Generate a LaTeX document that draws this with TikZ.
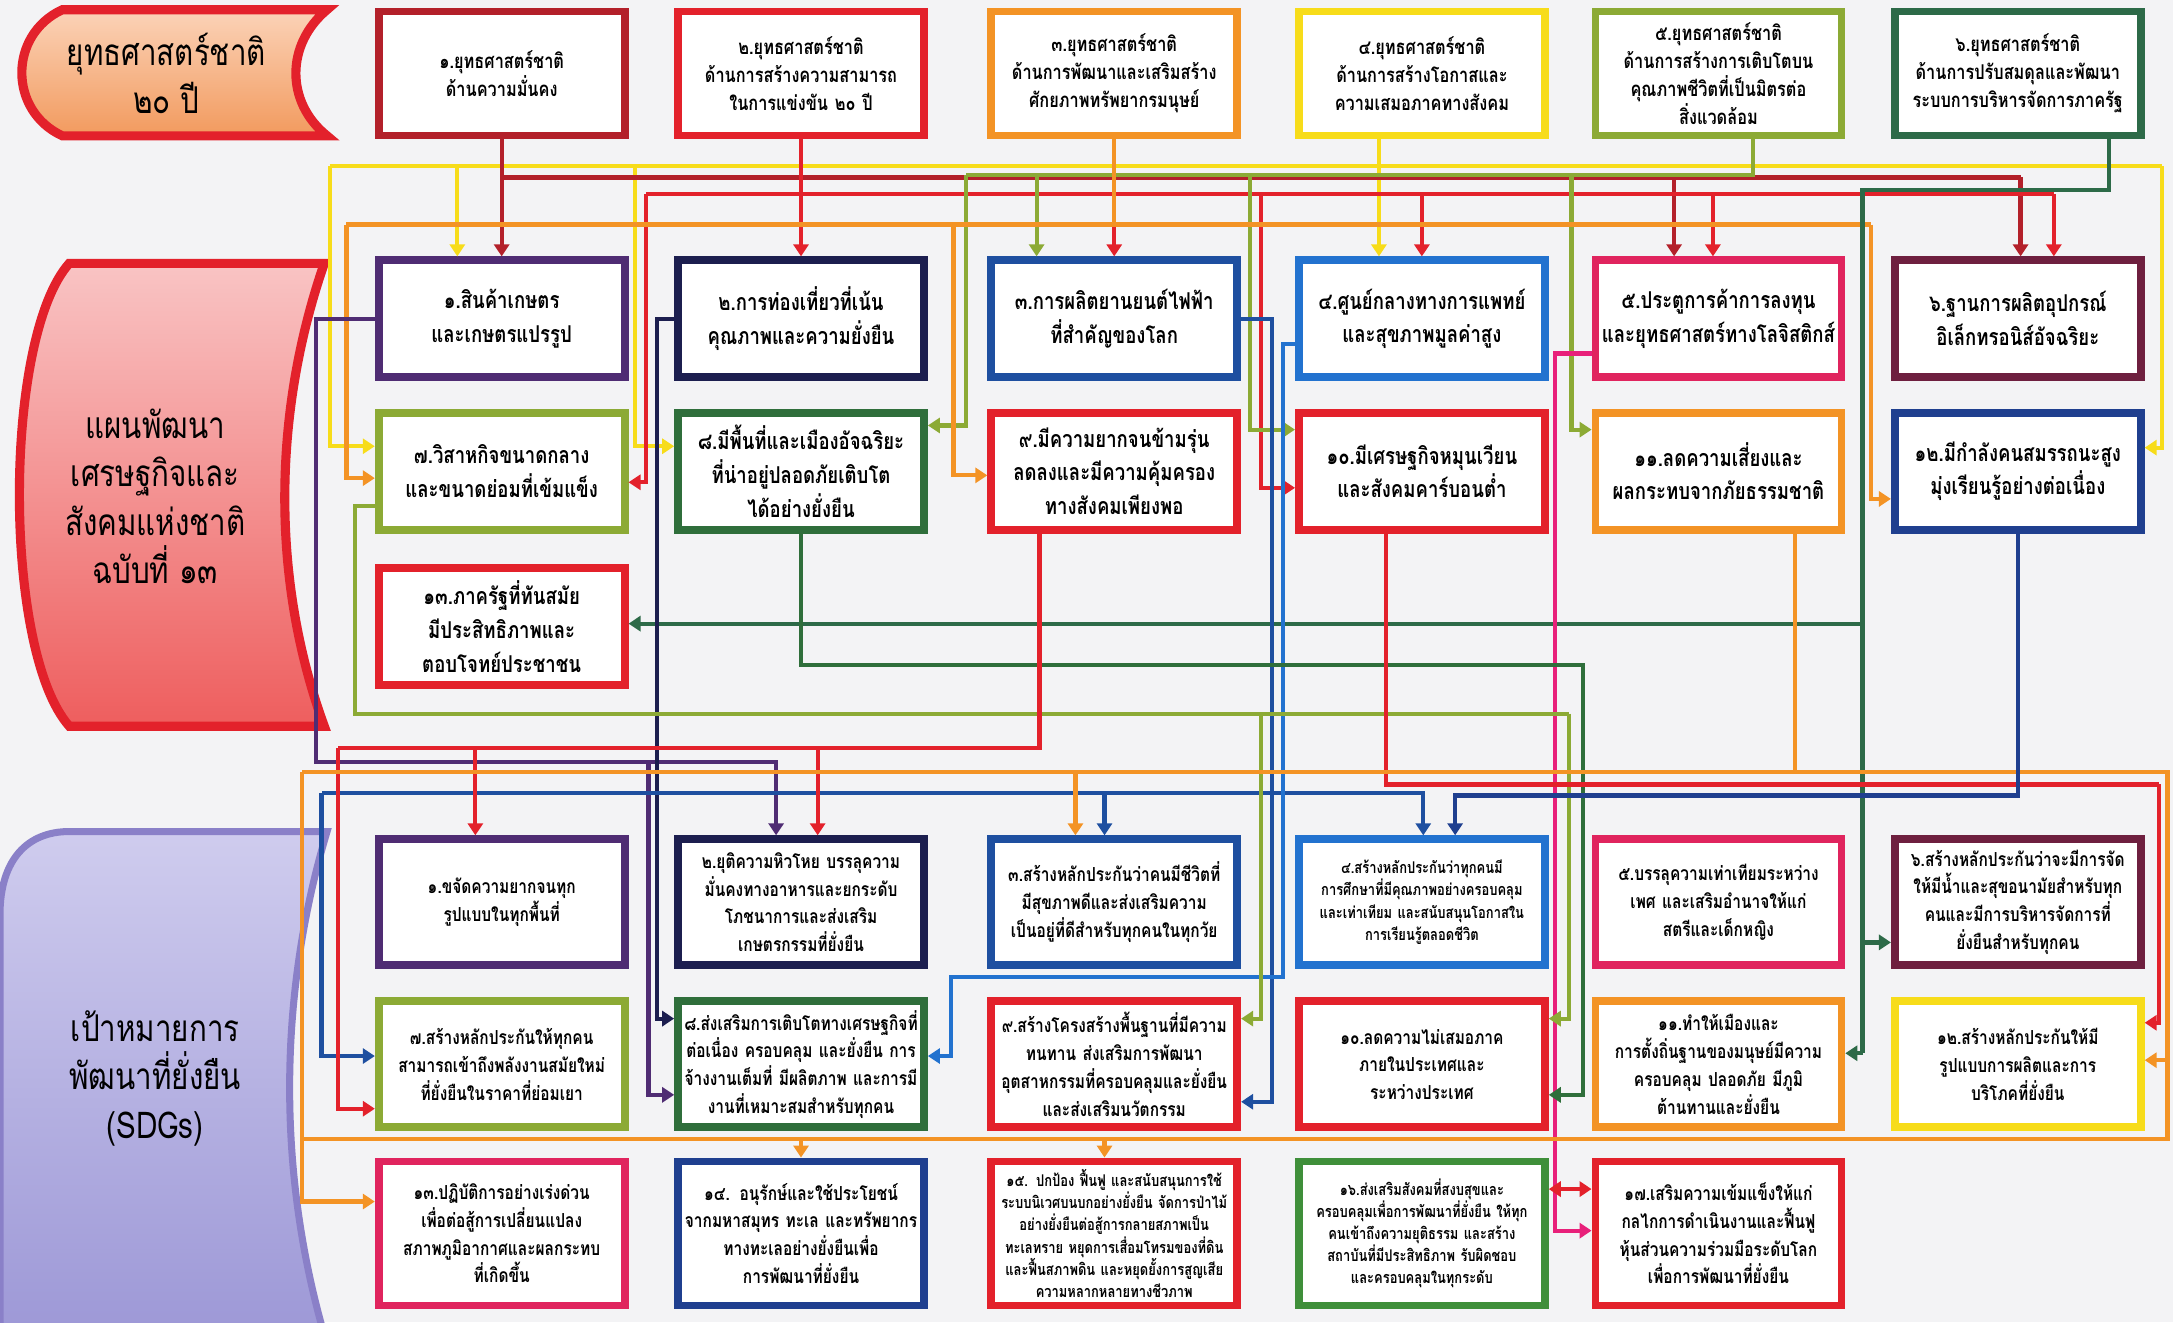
\documentclass[tikz,border=0pt]{standalone}
\usepackage{fontspec}
\newfontfamily\thaifont[Script=Thai,FakeStretch=0.8]{Loma}
\usetikzlibrary{arrows.meta}

\definecolor{bggrey}{HTML}{F3F3F5}
\definecolor{cdarkred}{HTML}{B3202A}
\definecolor{cred}{HTML}{E3212B}
\definecolor{corange}{HTML}{F39325}
\definecolor{cyellow}{HTML}{F7DC1A}
\definecolor{colive}{HTML}{8CAA35}
\definecolor{cdkgreen}{HTML}{2D6A48}
\definecolor{cpurple}{HTML}{4F2C73}
\definecolor{cnavy}{HTML}{1C1E4F}
\definecolor{cblue}{HTML}{1E4FA0}
\definecolor{cltblue}{HTML}{2272CF}
\definecolor{ccrimson}{HTML}{E0245E}
\definecolor{cmaroon}{HTML}{6E1F3F}
\definecolor{cgreen}{HTML}{2F6E3B}
\definecolor{cnavyblue}{HTML}{1F3F8F}
\definecolor{cgreentwo}{HTML}{3F8F3A}
\definecolor{cpink}{HTML}{E8207A}
\definecolor{peachtop}{HTML}{FBD3B8}
\definecolor{peachbot}{HTML}{F29A5E}
\definecolor{pinktop}{HTML}{F9C4C4}
\definecolor{pinkbot}{HTML}{EE5E5E}
\definecolor{lavtop}{HTML}{CFCCEE}
\definecolor{lavbot}{HTML}{9C97D6}
\definecolor{sdgedge}{HTML}{8A80C8}

\begin{document}
\begin{tikzpicture}[%
    x=0.1386mm, y=-0.1386mm,
    boxnode/.style={
        draw=#1,
        rectangle,
        line width=2.2pt,
        fill=white,
        minimum width=24.6mm,
        text width=24mm,
        align=center,
        inner sep=0.5pt,
        anchor=center,
        },
    stratnode/.style={boxnode=#1, minimum height=12.4mm,
        font=\thaifont\bfseries\fontsize{5.8}{8}\selectfont},
    plannode/.style={boxnode=#1, minimum height=11.7mm,
        font=\thaifont\bfseries\fontsize{6.6}{9.6}\selectfont},
    sdgnode/.style={boxnode=#1, minimum height=12.6mm,
        font=\thaifont\bfseries\fontsize{5.5}{7.9}\selectfont},
    tallsdg/.style={minimum height=14.4mm},
    tinytext/.style={font=\thaifont\bfseries\fontsize{4.6}{6.3}\selectfont},
    bannertext/.style={font=\thaifont\fontsize{10.5}{13.8}\selectfont, align=center},
    busline/.style={line width=1.2pt},
    arrowline/.style={line width=1.2pt, -{Triangle[length=1.2mm,width=1.5mm]}},
    twoway/.style={line width=1.2pt,
        {Triangle[length=1.2mm,width=1.5mm]}-{Triangle[length=1.2mm,width=1.5mm]}},
]

\useasboundingbox (0,0) rectangle (1568,954);
\fill[bggrey] (0,0) rectangle (1568,954);

% banners on the left
\draw[draw=cred, line width=2.6pt, top color=peachtop, bottom color=peachbot]
    (45,7) -- (236,7) .. controls (206,32) and (206,74) .. (236,98)
    -- (45,98) .. controls (6,80) and (6,25) .. (45,7) -- cycle;
\node[bannertext] (ystext) at (120,53) {ยุทธศาสตร์ชาติ\\๒๐ ปี};

\draw[draw=cred, line width=2.6pt, top color=pinktop, bottom color=pinkbot]
    (50,190) -- (234,190) .. controls (196,300) and (196,420) .. (234,524)
    -- (50,524) .. controls (2,470) and (2,244) .. (50,190) -- cycle;
\node[bannertext] (plantext) at (112,358) {แผนพัฒนา\\เศรษฐกิจและ\\สังคมแห่งชาติ\\ฉบับที่ ๑๓};

\draw[draw=sdgedge, line width=2pt, top color=lavtop, bottom color=lavbot]
    (0,660) .. controls (0,620) and (20,600) .. (50,600) -- (236,600)
    .. controls (200,720) and (200,850) .. (236,970) -- (0,970) -- cycle;
\node[bannertext] (sdgtext) at (112,778) {เป้าหมายการ\\พัฒนาที่ยั่งยืน\\(SDGs)};

% national strategy
\node[stratnode=cdarkred] (st1) at (362,53) {๑.ยุทธศาสตร์ชาติ\\ด้านความมั่นคง};
\node[stratnode=cred] (st2) at (578,53) {๒.ยุทธศาสตร์ชาติ\\ด้านการสร้างความสามารถ\\ในการแข่งขัน ๒๐ ปี};
\node[stratnode=corange] (st3) at (804,53) {๓.ยุทธศาสตร์ชาติ\\ด้านการพัฒนาและเสริมสร้าง\\ศักยภาพทรัพยากรมนุษย์};
\node[stratnode=cyellow] (st4) at (1026,53) {๔.ยุทธศาสตร์ชาติ\\ด้านการสร้างโอกาสและ\\ความเสมอภาคทางสังคม};
\node[stratnode=colive] (st5) at (1240,53) {๕.ยุทธศาสตร์ชาติ\\ด้านการสร้างการเติบโตบน\\คุณภาพชีวิตที่เป็นมิตรต่อ\\สิ่งแวดล้อม};
\node[stratnode=cdkgreen] (st6) at (1456,53) {๖.ยุทธศาสตร์ชาติ\\ด้านการปรับสมดุลและพัฒนา\\ระบบการบริหารจัดการภาครัฐ};

% plan milestones
\node[plannode=cpurple] (pl1) at (362,230) {๑.สินค้าเกษตร\\และเกษตรแปรรูป};
\node[plannode=cnavy] (pl2) at (578,230) {๒.การท่องเที่ยวที่เน้น\\คุณภาพและความยั่งยืน};
\node[plannode=cblue] (pl3) at (804,230) {๓.การผลิตยานยนต์ไฟฟ้า\\ที่สำคัญของโลก};
\node[plannode=cltblue] (pl4) at (1026,230) {๔.ศูนย์กลางทางการแพทย์\\และสุขภาพมูลค่าสูง};
\node[plannode=ccrimson] (pl5) at (1240,230) {๕.ประตูการค้าการลงทุน\\และยุทธศาสตร์ทางโลจิสติกส์};
\node[plannode=cmaroon] (pl6) at (1456,230) {๖.ฐานการผลิตอุปกรณ์\\อิเล็กทรอนิส์อัจฉริยะ};
\node[plannode=colive] (pl7) at (362,340) {๗.วิสาหกิจขนาดกลาง\\และขนาดย่อมที่เข้มแข็ง};
\node[plannode=cgreen] (pl8) at (578,340) {๘.มีพื้นที่และเมืองอัจฉริยะ\\ที่น่าอยู่ปลอดภัยเติบโต\\ได้อย่างยั่งยืน};
\node[plannode=cred] (pl9) at (804,340) {๙.มีความยากจนข้ามรุ่น\\ลดลงและมีความคุ้มครอง\\ทางสังคมเพียงพอ};
\node[plannode=cred] (pl10) at (1026,340) {๑๐.มีเศรษฐกิจหมุนเวียน\\และสังคมคาร์บอนต่ำ};
\node[plannode=corange] (pl11) at (1240,340) {๑๑.ลดความเสี่ยงและ\\ผลกระทบจากภัยธรรมชาติ};
\node[plannode=cnavyblue] (pl12) at (1456,340) {๑๒.มีกำลังคนสมรรถนะสูง\\มุ่งเรียนรู้อย่างต่อเนื่อง};
\node[plannode=cred] (pl13) at (362,452) {๑๓.ภาครัฐที่ทันสมัย\\มีประสิทธิภาพและ\\ตอบโจทย์ประชาชน};

% sustainable development goals
\node[sdgnode=cpurple] (sdg1) at (362,651) {๑.ขจัดความยากจนทุก\\รูปแบบในทุกพื้นที่};
\node[sdgnode=cnavy] (sdg2) at (578,651) {๒.ยุติความหิวโหย บรรลุความ\\มั่นคงทางอาหารและยกระดับ\\โภชนาการและส่งเสริม\\เกษตรกรรมที่ยั่งยืน};
\node[sdgnode=cblue] (sdg3) at (804,651) {๓.สร้างหลักประกันว่าคนมีชีวิตที่\\มีสุขภาพดีและส่งเสริมความ\\เป็นอยู่ที่ดีสำหรับทุกคนในทุกวัย};
\node[sdgnode=cltblue, tinytext] (sdg4) at (1026,651) {๔.สร้างหลักประกันว่าทุกคนมี\\การศึกษาที่มีคุณภาพอย่างครอบคลุม\\และเท่าเทียม และสนับสนุนโอกาสใน\\การเรียนรู้ตลอดชีวิต};
\node[sdgnode=ccrimson] (sdg5) at (1240,651) {๕.บรรลุความเท่าเทียมระหว่าง\\เพศ และเสริมอำนาจให้แก่\\สตรีและเด็กหญิง};
\node[sdgnode=cmaroon] (sdg6) at (1456,651) {๖.สร้างหลักประกันว่าจะมีการจัด\\ให้มีน้ำและสุขอนามัยสำหรับทุก\\คนและมีการบริหารจัดการที่\\ยั่งยืนสำหรับทุกคน};
\node[sdgnode=colive] (sdg7) at (362,768) {๗.สร้างหลักประกันให้ทุกคน\\สามารถเข้าถึงพลังงานสมัยใหม่\\ที่ยั่งยืนในราคาที่ย่อมเยา};
\node[sdgnode=cgreen] (sdg8) at (578,768) {๘.ส่งเสริมการเติบโตทางเศรษฐกิจที่\\ต่อเนื่อง ครอบคลุม และยั่งยืน การ\\จ้างงานเต็มที่ มีผลิตภาพ และการมี\\งานที่เหมาะสมสำหรับทุกคน};
\node[sdgnode=cred] (sdg9) at (804,768) {๙.สร้างโครงสร้างพื้นฐานที่มีความ\\ทนทาน ส่งเสริมการพัฒนา\\อุตสาหกรรมที่ครอบคลุมและยั่งยืน\\และส่งเสริมนวัตกรรม};
\node[sdgnode=cred] (sdg10) at (1026,768) {๑๐.ลดความไม่เสมอภาค\\ภายในประเทศและ\\ระหว่างประเทศ};
\node[sdgnode=corange] (sdg11) at (1240,768) {๑๑.ทำให้เมืองและ\\การตั้งถิ่นฐานของมนุษย์มีความ\\ครอบคลุม ปลอดภัย มีภูมิ\\ต้านทานและยั่งยืน};
\node[sdgnode=cyellow] (sdg12) at (1456,768) {๑๒.สร้างหลักประกันให้มี\\รูปแบบการผลิตและการ\\บริโภคที่ยั่งยืน};
\node[sdgnode=ccrimson, tallsdg] (sdg13) at (362,890) {๑๓.ปฏิบัติการอย่างเร่งด่วน\\เพื่อต่อสู้การเปลี่ยนแปลง\\สภาพภูมิอากาศและผลกระทบ\\ที่เกิดขึ้น};
\node[sdgnode=cnavyblue, tallsdg] (sdg14) at (578,890) {๑๔. อนุรักษ์และใช้ประโยชน์\\จากมหาสมุทร ทะเล และทรัพยากร\\ทางทะเลอย่างยั่งยืนเพื่อ\\การพัฒนาที่ยั่งยืน};
\node[sdgnode=cred, tallsdg, tinytext] (sdg15) at (804,890) {๑๕. ปกป้อง ฟื้นฟู และสนับสนุนการใช้\\ระบบนิเวศบนบกอย่างยั่งยืน จัดการป่าไม้\\อย่างยั่งยืนต่อสู้การกลายสภาพเป็น\\ทะเลทราย หยุดการเสื่อมโทรมของที่ดิน\\และฟื้นสภาพดิน และหยุดยั้งการสูญเสีย\\ความหลากหลายทางชีวภาพ};
\node[sdgnode=cgreentwo, tallsdg, tinytext] (sdg16) at (1026,890) {๑๖.ส่งเสริมสังคมที่สงบสุขและ\\ครอบคลุมเพื่อการพัฒนาที่ยั่งยืน ให้ทุก\\คนเข้าถึงความยุติธรรม และสร้าง\\สถาบันที่มีประสิทธิภาพ รับผิดชอบ\\และครอบคลุมในทุกระดับ};
\node[sdgnode=cred, tallsdg] (sdg17) at (1240,890) {๑๗.เสริมความเข้มแข็งให้แก่\\กลไกการดำเนินงานและฟื้นฟู\\หุ้นส่วนความร่วมมือระดับโลก\\เพื่อการพัฒนาที่ยั่งยืน};

% strategy -> plan
\draw[busline, cyellow] (995,0 |- st4.south) -- (995,120);
\draw[busline, cyellow] (238,120) -- (1560,120);
\draw[arrowline, cyellow] (995,120) -- (995,0 |- pl4.north);
\draw[arrowline, cyellow] (330,120) -- (330,0 |- pl1.north);
\draw[arrowline, cyellow] (238,120) -- (238,322) -- (238,322 -| pl7.west);
\draw[arrowline, cyellow] (458,120) -- (458,322) -- (458,322 -| pl8.west);
\draw[arrowline, cyellow] (1560,120) -- (1560,323) -- (1560,323 -| pl12.east);

\draw[arrowline, cdarkred] (st1.south) -- (pl1.north);
\draw[busline, cdarkred] (362,128) -- (1458,128);
\draw[arrowline, cdarkred] (1208,128) -- (1208,0 |- pl5.north);
\draw[arrowline, cdarkred] (1458,128) -- (1458,0 |- pl6.north);

\draw[arrowline, cred] (st2.south) -- (pl2.north);
\draw[busline, cred] (466,140) -- (1482,140);
\draw[arrowline, cred] (804,140) -- (pl3.north);
\draw[arrowline, cred] (1026,140) -- (pl4.north);
\draw[arrowline, cred] (1236,140) -- (1236,0 |- pl5.north);
\draw[arrowline, cred] (1482,140) -- (1482,0 |- pl6.north);
\draw[arrowline, cred] (466,140) -- (466,348) -- (466,348 -| pl7.east);
\draw[arrowline, cred] (910,140) -- (910,352) -- (910,352 -| pl10.west);

\draw[busline, colive] (1265,0 |- st5.south) -- (1265,126) -- (697,126);
\draw[arrowline, colive] (748,126) -- (748,0 |- pl3.north);
\draw[arrowline, colive] (697,126) -- (697,307) -- (697,307 -| pl8.east);
\draw[arrowline, colive] (902,126) -- (902,310) -- (902,310 -| pl10.west);
\draw[arrowline, colive] (1134,126) -- (1134,310) -- (1134,310 -| pl11.west);

\draw[busline, corange] (st3.south) -- (804,162);
\draw[busline, corange] (250,162) -- (1350,162);
\draw[arrowline, corange] (250,162) -- (250,345) -- (250,345 -| pl7.west);
\draw[arrowline, corange] (688,162) -- (688,343) -- (688,343 -| pl9.west);
\draw[arrowline, corange] (1350,162) -- (1350,360) -- (1350,360 -| pl12.west);

\draw[busline, cdkgreen] (1522,0 |- st6.south) -- (1522,137) -- (1344,137) -- (1344,760);
\draw[arrowline, cdkgreen] (1344,450) -- (1344,450 -| pl13.east);
\draw[arrowline, cdkgreen] (1344,680) -- (1344,680 -| sdg6.west);
\draw[arrowline, cdkgreen] (1344,760) -- (1344,760 -| sdg11.east);

% plan -> goals
\draw[arrowline, cpurple] (pl1.west) -- (228,230) -- (228,550) -| (560,0 |- sdg2.north);
\draw[arrowline, cpurple] (468,550) -- (468,790) -- (468,790 -| sdg8.west);

\draw[arrowline, cnavy] (pl2.west) -- (474,230) -- (474,735) -- (474,735 -| sdg8.west);

\draw[busline, cblue] (pl3.east) -- (918,230) -- (918,572) -- (232,572);
\draw[arrowline, cblue] (232,572) -- (232,762) -- (232,762 -| sdg7.west);
\draw[arrowline, cblue] (797,572) -- (797,0 |- sdg3.north);
\draw[arrowline, cblue] (918,572) -| (1027,0 |- sdg4.north);
\draw[arrowline, cblue] (918,572) -- (918,795) -- (918,795 -| sdg9.east);

\draw[arrowline, cltblue] (pl4.west |- 0,248) -- (926,248) -- (926,705) -- (686,705)
    -- (686,762) -- (686,762 -| sdg8.east);

\draw[arrowline, cpink] (pl5.west |- 0,255) -- (1122,255) -- (1122,888) -- (1122,888 -| sdg17.west);

\draw[busline, colive] (pl7.west |- 0,365) -- (256,365) -- (256,515) -- (1132,515);
\draw[arrowline, colive] (910,515) -- (910,735) -- (910,735 -| sdg9.east);
\draw[arrowline, colive] (1132,515) -- (1132,735) -- (1132,735 -| sdg10.east);

\draw[arrowline, cgreen] (pl8.south) -- (578,480) -- (1142,480) -- (1142,790) -- (1142,790 -| sdg10.east);

\draw[busline, cred] (750,0 |- pl9.south) -- (750,540) -- (244,540);
\draw[arrowline, cred] (343,540) -- (343,0 |- sdg1.north);
\draw[arrowline, cred] (590,540) -- (590,0 |- sdg2.north);
\draw[arrowline, cred] (244,540) -- (244,800) -- (244,800 -| sdg7.west);

\draw[busline, cred] (1000,0 |- pl10.south) -- (1000,566) -- (1558,566);
\draw[arrowline, cred] (1558,566) -- (1558,738) -- (1558,738 -| sdg12.east);

\draw[busline, corange] (1295,0 |- pl11.south) -- (1295,557);
\draw[busline, corange] (218,557) -- (1564,557) -- (1564,822) -- (218,822);
\draw[arrowline, corange] (1564,765) -- (1564,765 -| sdg12.east);
\draw[arrowline, corange] (218,557) -- (218,867) -- (218,867 -| sdg13.west);
\draw[arrowline, corange] (776,557) -- (776,0 |- sdg3.north);
\draw[arrowline, corange] (578,822) -- (sdg14.north);
\draw[arrowline, corange] (797,822) -- (797,0 |- sdg15.north);

\draw[arrowline, cnavyblue] (pl12.south) -- (1456,574) -- (1050,574) -- (1050,0 |- sdg4.north);

\draw[twoway, cred] (sdg16.east |- 0,858) -- (sdg17.west |- 0,858);

\end{tikzpicture}
\end{document}
